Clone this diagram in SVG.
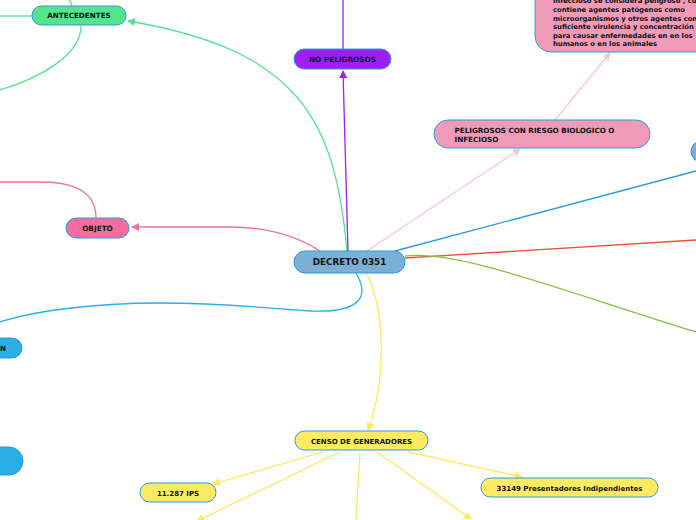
<svg xmlns="http://www.w3.org/2000/svg" width="696" height="520" viewBox="0 0 696 520">
<defs>
<style>
.n{stroke:#2a9be0;stroke-width:1}
.t{font-family:"DejaVu Sans",Verdana,sans-serif;font-weight:bold;fill:#111;text-anchor:middle}
.c{fill:none;stroke-width:1.3}
</style>
<marker id="aG" markerWidth="8" markerHeight="8" refX="7" refY="4" orient="auto" markerUnits="userSpaceOnUse"><path d="M0,0 L8,4 L0,8 z" fill="#52e58e"/></marker>
<marker id="aP" markerWidth="8" markerHeight="8" refX="7" refY="4" orient="auto" markerUnits="userSpaceOnUse"><path d="M0,0 L8,4 L0,8 z" fill="#a020f0"/></marker>
<marker id="aK" markerWidth="8" markerHeight="8" refX="7" refY="4" orient="auto" markerUnits="userSpaceOnUse"><path d="M0,0 L8,4 L0,8 z" fill="#f0709e"/></marker>
<marker id="aL" markerWidth="8" markerHeight="8" refX="7" refY="4" orient="auto" markerUnits="userSpaceOnUse"><path d="M0,0 L8,4 L0,8 z" fill="#f9c4da"/></marker>
<marker id="aY" markerWidth="8" markerHeight="8" refX="7" refY="4" orient="auto" markerUnits="userSpaceOnUse"><path d="M0,0 L8,4 L0,8 z" fill="#ffe760"/></marker>
</defs>
<rect width="696" height="520" fill="#fff"/>
<g id="connectors">
<path class="c" d="M347,251 C335,120 300,50 128,21" stroke="#52e58e" marker-end="url(#aG)"/>
<path class="c" d="M32,16 L0,16" stroke="#52e58e"/>
<path class="c" d="M81,26 C81,55 40,78 0,90" stroke="#52e58e"/>
<path class="c" d="M69,0 C71,2 72,4 72,6" stroke="#52e58e"/>
<path class="c" d="M343,0 L343,49" stroke="#a020f0"/>
<path class="c" d="M348,251 L343,71" stroke="#a020f0" marker-end="url(#aP)"/>
<path class="c" d="M320,251 C300,238 270,227 230,227 L132,227" stroke="#f0709e" marker-end="url(#aK)"/>
<path class="c" d="M96,218 C96,195 80,182 40,182 L0,182" stroke="#f0709e"/>
<path class="c" d="M367,251 L520,149" stroke="#f9c4da" marker-end="url(#aL)"/>
<path class="c" d="M555,120 L610,53" stroke="#f9c4da" marker-end="url(#aL)"/>
<path class="c" d="M395,251 L696,171" stroke="#2a9be0"/>
<path class="c" d="M405,258 L696,240" stroke="#e8503a"/>
<path class="c" d="M405,256 C460,250 560,290 696,332" stroke="#86bf3f"/>
<path class="c" d="M356,273 C372,300 355,313 310,311 C260,308 230,303 160,303 C90,303 30,312 0,322" stroke="#29aee8"/>
<path class="c" d="M366,273 C386,310 386,380 368,430" stroke="#ffe760" marker-end="url(#aY)"/>
<path class="c" d="M323,452 L213,484" stroke="#ffe760" marker-end="url(#aY)"/>
<path class="c" d="M340,452 L197,521" stroke="#ffe760" marker-end="url(#aY)"/>
<path class="c" d="M360,452 L356,520" stroke="#ffe760"/>
<path class="c" d="M377,452 L471,519" stroke="#ffe760" marker-end="url(#aY)"/>
<path class="c" d="M408,452 L522,477" stroke="#ffe760" marker-end="url(#aY)"/>
</g>
<g id="decreto">
<rect class="n" x="294" y="251" width="111" height="22" rx="11" fill="#7bafd4"/>
<text class="t" x="349.5" y="265.2" font-size="8.8">DECRETO 0351</text>
</g>
<g id="no-peligrosos">
<rect class="n" x="294" y="49" width="97" height="20" rx="10" fill="#9f1ff2"/>
<text class="t" x="342.5" y="62" font-size="7.3">NO PELIGROSOS</text>
</g>
<g id="antecedentes">
<rect class="n" x="32" y="6" width="94" height="19" rx="9.5" fill="#52e58e"/>
<text class="t" x="79" y="18.3" font-size="7.2">ANTECEDENTES</text>
</g>
<g id="objeto">
<rect class="n" x="66" y="218" width="63" height="20" rx="10" fill="#f56d9c"/>
<text class="t" x="97.5" y="231" font-size="7.3">OBJETO</text>
</g>
<g id="peligrosos">
<rect class="n" x="434" y="120" width="216" height="28" rx="14" fill="#ef9bb8"/>
<text class="t" x="454.5" y="133" font-size="7.2" style="text-anchor:start">PELIGROSOS CON RIESGO BIOLOGICO O</text>
<text class="t" x="454.5" y="141.5" font-size="7.2" style="text-anchor:start">INFECIOSO</text>
</g>
<g id="definicion">
<rect class="n" x="535" y="-30" width="200" height="82" rx="16" fill="#ef9bb8"/>
<text class="t" font-size="6.8" style="text-anchor:start">
<tspan x="553" y="2.5">infeccioso se considera peligroso , cuando</tspan>
<tspan x="553" y="12">contiene agentes patógenos como</tspan>
<tspan x="553" y="20.5">microorganismos y otros agentes con</tspan>
<tspan x="553" y="29">suficiente virulencia y concentración</tspan>
<tspan x="553" y="37.5">para causar enfermedades en en los</tspan>
<tspan x="553" y="46">humanos o en los animales</tspan>
</text>
</g>
<g id="right-node">
<rect class="n" x="691" y="141" width="40" height="21" rx="10.5" fill="#7bafd4"/>
</g>
<g id="left-node-1">
<rect class="n" x="-60" y="338" width="82" height="20" rx="10" fill="#29aee8"/>
<text class="t" x="6" y="351" font-size="7.2" style="text-anchor:end">N</text>
</g>
<g id="left-node-2">
<rect class="n" x="-60" y="447" width="83" height="28" rx="14" fill="#29aee8"/>
</g>
<g id="censo">
<rect class="n" x="295" y="431" width="133" height="19" rx="9.5" fill="#ffea63"/>
<text class="t" x="361.5" y="443.5" font-size="7">CENSO DE GENERADORES</text>
</g>
<g id="ips">
<rect class="n" x="140" y="483" width="76" height="19" rx="9.5" fill="#ffea63"/>
<text class="t" x="178" y="495.5" font-size="7">11.287 IPS</text>
</g>
<g id="presentadores">
<rect class="n" x="481" y="478" width="177" height="19" rx="9.5" fill="#ffea63"/>
<text class="t" x="569.5" y="490.5" font-size="7">33149 Presentadores Indipendientes</text>
</g>
</svg>
